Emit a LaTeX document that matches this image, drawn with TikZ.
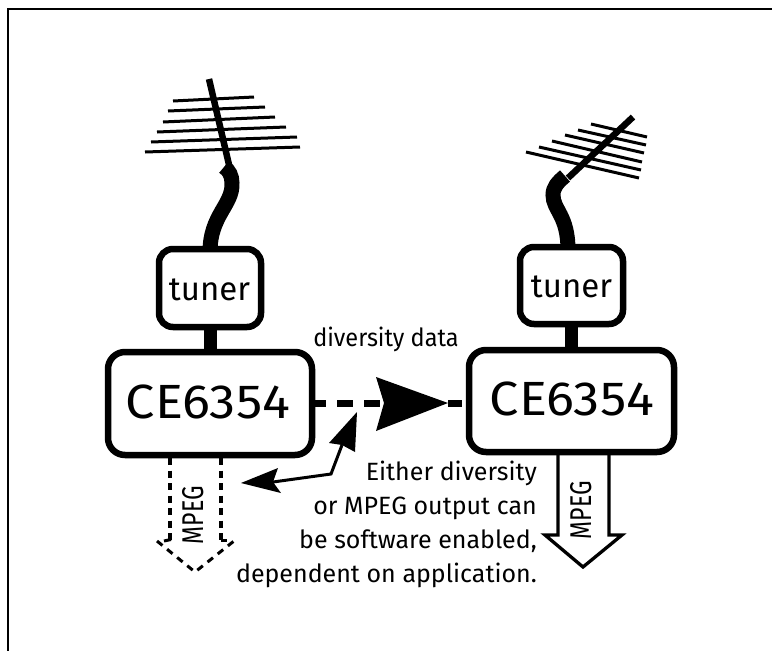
\documentclass[tikz,border=0pt]{standalone}
\usepackage{graphicx}
\usepackage{fontspec}
\setmainfont{Fira Sans}
\tikzset{
  x=1pt,y=-1pt,
  chipbox/.style={draw=black,line width=6.5pt,rounded corners=17pt,fill=white,inner sep=0pt,font=\fontsize{48}{48}\selectfont},
  tunerbox/.style={draw=black,line width=6.5pt,rounded corners=14pt,fill=white,inner sep=0pt,font=\fontsize{33}{33}\selectfont},
  label/.style={font=\fontsize{25}{34}\selectfont,inner sep=0pt},
  mpeglabel/.style={font=\fontsize{30}{30}\selectfont,rotate=90,inner sep=0pt},
  rod/.style={line width=3pt},
  mast/.style={line width=6.5pt},
  lead/.style={line width=15pt},
  stem/.style={line width=13pt},
  dashline/.style={line width=3.5pt,dash pattern=on 7pt off 5.5pt},
  chevron/.style={line width=3pt,dash pattern=on 7pt off 6pt},
}
\begin{document}
\begin{tikzpicture}
\useasboundingbox (0,0) rectangle (772,651);
\coordinate (bl) at (8,651);\coordinate (tl) at (8,9);\coordinate (tr) at (772,9);
\draw[line width=2.5pt] (bl)--(tl)--(tr);
% left antenna
\draw[rod] (173,101)--(254,97);
\draw[rod] (168,111)--(265,107);
\draw[rod] (163,122)--(275,117);
\draw[rod] (157,132)--(286,127);
\draw[rod] (151,142)--(297,137);
\draw[rod] (145,152)--(300,147);
\draw[mast] (209,79)--(230,169);
\draw[lead] (210,252) .. controls (210,215) and (233,205) .. (232,183) .. controls (232,176) and (229,170) .. (224,167);
% right antenna
\draw[rod] (591,124)--(647,137);
\draw[rod] (578,130)--(646,145);
\draw[rod] (565,135)--(644,153);
\draw[rod] (552,141)--(642,162);
\draw[rod] (539,147)--(641,170);
\draw[rod] (526,152)--(639,178);
\draw[mast] (633,117)--(568,178);
\draw[lead] (568,250) .. controls (568,215) and (553,210) .. (553,195) .. controls (553,187) and (558,182) .. (565,176);
% boxes
\node[tunerbox,minimum width=102pt,minimum height=78pt] (tunerL) at (210,288) {};
\node[tunerbox,minimum width=103pt,minimum height=77pt] (tunerR) at (571.5,285.5) {};
\node[chipbox,minimum width=204pt,minimum height=103pt] (ceL) at (210,403.5) {};
\node[chipbox,minimum width=205pt,minimum height=102pt] (ceR) at (571.5,401) {};
\draw[stem] (tunerL.south) -- (ceL.north);
\draw[stem] (tunerR.south) -- (ceR.north);
\node[font=\fontsize{33}{33}\selectfont,inner sep=0pt,anchor=base] (tunerLtext) at (209.5,300) {tuner};
\node[font=\fontsize{33}{33}\selectfont,inner sep=0pt,anchor=base] (tunerRtext) at (571.5,297) {tuner};
\node[font=\fontsize{48}{48}\selectfont,inner sep=0pt,anchor=base] (ceLtext) at (208,418) {\scalebox{1.09}[1]{CE6354}};
\node[font=\fontsize{48}{48}\selectfont,inner sep=0pt,anchor=base] (ceRtext) at (572,415) {\scalebox{1.09}[1]{CE6354}};
% diversity
\node[font=\fontsize{25}{30}\selectfont,inner sep=0pt,anchor=base] (divlab) at (386,346) {\scalebox{0.94}[1]{diversity data}};
\coordinate (notch) at (384,403);\coordinate (hd) at (448,403);\coordinate (stub) at (462,403);
\draw[line width=7pt,dash pattern=on 11pt off 11pt on 16pt off 11pt on 16pt off 20pt] (ceL.east |- notch) -- (notch);
\fill (376,377)--(hd)--(376,431)--(notch)--cycle;
\draw[line width=7pt] (hd)--(stub);
% double arrow
\coordinate (a1) at (357,412);\coordinate (a1n) at (342,445);\coordinate (bend) at (331,474);\coordinate (a2n) at (273,482);\coordinate (a2) at (241,483);
\fill (a1)--(355,452)--(a1n)--(329,443)--cycle;
\draw[line width=3pt] (a1n)--(bend)--(a2n);
\fill (a2)--(278,468)--(a2n)--(281,493)--cycle;
% dashed MPEG
\coordinate (dl) at (157,541);\coordinate (dt) at (195,572);\coordinate (dr) at (234,541);\coordinate (il) at (170,541);\coordinate (ir) at (221,541);
\draw[dashline] (170,458)--(il);
\draw[dashline] (221,458)--(ir);
\draw[line width=3pt] (171,539.5)--(164,541);
\draw[line width=3pt] (221,540)--(227,540);
\draw[chevron,dash phase=-3pt] (dt)--(dl);
\draw[chevron,dash phase=-3pt] (dt)--(dr);
\node[mpeglabel] (m1) at (193,515) {\scalebox{0.77}[1]{MPEG}};
% solid MPEG
\draw[line width=3.3pt,line join=miter] (558,455)--(558,535)--(545,535)--(583,567)--(622,535)--(609,535)--(609,455);
\node[mpeglabel] (m2) at (581,510) {\scalebox{0.77}[1]{MPEG}};
% note
\node[label,align=right,anchor=north east] (note) at (537,460.5) {Either diversity\\or MPEG output can\\be software enabled,\\dependent on application.};
\end{tikzpicture}
\end{document}
